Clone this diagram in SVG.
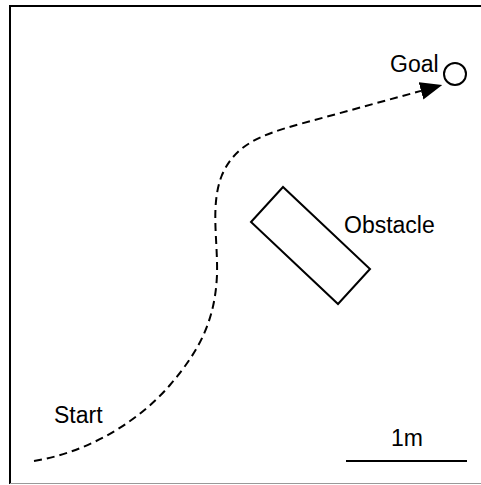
<svg xmlns="http://www.w3.org/2000/svg" width="481" height="485" viewBox="0 0 481 485">
<style>
.lbl{font-family:"Liberation Sans",Arial,Helvetica,sans-serif;font-size:23px;fill:#000}
.frame{fill:none;stroke:#000;stroke-width:2}
.path{fill:none;stroke:#000;stroke-width:2;stroke-dasharray:8,5}
.shape{fill:#fff;stroke:#000;stroke-width:2}
</style>
<defs>
<marker id="arr" viewBox="0 0 22 18" refX="0" refY="9" markerUnits="userSpaceOnUse" markerWidth="22" markerHeight="18" orient="auto">
<path d="M0,0 L22,9 L0,18 z" fill="#000"/>
</marker>
</defs>
<rect width="481" height="485" fill="#fff"/>
<g id="frame">
<path class="frame" d="M10,484 L10,6 L481,6"/>
<line x1="10" y1="483.5" x2="481" y2="483.5" stroke="#999" stroke-width="1"/>
</g>
<g id="connectors">
<path class="path" marker-end="url(#arr)" d="M34,461 C90,452 140,420 170,385 C200,350 215,320 217,275 C218,240 210,205 222,175 C235,145 260,135 300,124 L421,90.9"/>
</g>
<g id="start">
<text class="lbl" x="54" y="423">Start</text>
</g>
<g id="goal">
<circle class="shape" cx="455" cy="74" r="11"/>
<text class="lbl" x="390" y="72">Goal</text>
</g>
<g id="obstacle">
<polygon class="shape" points="283,187 251,222 338,304 370,269"/>
<text class="lbl" x="344" y="233">Obstacle</text>
</g>
<g id="scale">
<line x1="346" y1="461" x2="467" y2="461" stroke="#000" stroke-width="2"/>
<text class="lbl" x="391" y="446">1m</text>
</g>
</svg>
